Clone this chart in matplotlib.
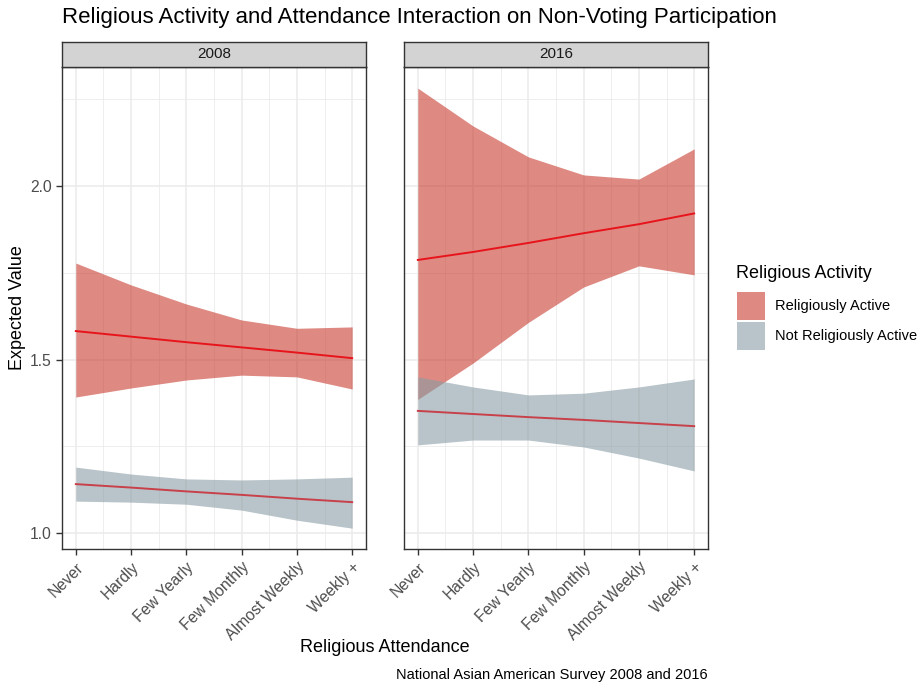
import matplotlib.pyplot as plt
import numpy as np

plt.rcParams['font.family'] = ['Liberation Sans', 'DejaVu Sans']

attendance = ['Never', 'Hardly', 'Few Yearly', 'Few Monthly', 'Almost Weekly', 'Weekly +']
years = ['2008', '2016']

# religiously active: fit, lower, upper
active_fit = {
    '2008': [1.582, 1.566, 1.550, 1.535, 1.520, 1.504],
    '2016': [1.787, 1.810, 1.836, 1.864, 1.890, 1.921],
}
active_low = {
    '2008': [1.392, 1.418, 1.441, 1.455, 1.450, 1.415],
    '2016': [1.385, 1.490, 1.607, 1.709, 1.770, 1.744],
}
active_high = {
    '2008': [1.778, 1.715, 1.660, 1.614, 1.590, 1.594],
    '2016': [2.282, 2.173, 2.084, 2.032, 2.020, 2.107],
}
# not religiously active
inactive_fit = {
    '2008': [1.141, 1.131, 1.120, 1.110, 1.099, 1.089],
    '2016': [1.352, 1.343, 1.334, 1.326, 1.317, 1.308],
}
inactive_low = {
    '2008': [1.092, 1.089, 1.083, 1.066, 1.037, 1.014],
    '2016': [1.254, 1.268, 1.268, 1.248, 1.216, 1.179],
}
inactive_high = {
    '2008': [1.190, 1.170, 1.156, 1.153, 1.156, 1.161],
    '2016': [1.450, 1.421, 1.398, 1.403, 1.421, 1.444],
}

red_fill = '#C83B2F'
grey_fill = '#8A9DA5'

fig = plt.figure(figsize=(9.19, 6.86), dpi=100)
x = np.arange(len(attendance))

lefts = [62 / 919, 404 / 919]
w = 304 / 919
bot = 1 - 549 / 686
h = (549 - 67) / 686
strip_h = 25 / 686

for k, yr in enumerate(years):
    ax = fig.add_axes([lefts[k], bot, w, h])
    ax.set_xlim(-0.25, 5.25)
    ax.set_ylim(0.954, 2.343)
    ax.set_xticks(x)
    ax.set_xticks(x[:-1] + 0.5, minor=True)
    ax.set_yticks([1.0, 1.5, 2.0])
    ax.set_yticks([1.25, 1.75, 2.25], minor=True)
    ax.grid(True, which='major', color='#EBEBEB', lw=1.1)
    ax.grid(True, which='minor', color='#EBEBEB', lw=0.6)
    ax.set_axisbelow(True)
    for s in ax.spines.values():
        s.set_color('#333333')
        s.set_linewidth(1.0)
    ax.tick_params(which='major', color='#333333', length=4, width=1, labelsize=11.3, labelcolor='#4D4D4D')
    ax.tick_params(which='minor', length=0)
    ax.set_xticklabels(attendance, rotation=45, ha='right', rotation_mode='anchor')
    if k == 0:
        ax.set_yticklabels(['1.0', '1.5', '2.0'])
    else:
        ax.set_yticklabels([])
        ax.tick_params(axis='y', length=0)

    ax.fill_between(x, active_low[yr], active_high[yr], color=red_fill, alpha=0.6, lw=0, zorder=2)
    ax.fill_between(x, inactive_low[yr], inactive_high[yr], color=grey_fill, alpha=0.6, lw=0, zorder=3)
    ax.plot(x, active_fit[yr], color='#E8141B', lw=1.4, zorder=4)
    ax.plot(x, inactive_fit[yr], color='#C8404A', lw=1.4, zorder=4)

    sax = fig.add_axes([lefts[k], bot + h, w, strip_h])
    sax.set_facecolor('#D3D3D3')
    sax.set_xticks([])
    sax.set_yticks([])
    for s in sax.spines.values():
        s.set_color('#333333')
        s.set_linewidth(1.0)
    sax.text(0.5, 0.5, yr, ha='center', va='center', fontsize=11, color='#1A1A1A', transform=sax.transAxes)

fig.text(62 / 919, 1 - 18 / 686, 'Religious Activity and Attendance Interaction on Non-Voting Participation',
         fontsize=16, ha='left', va='center')
fig.text(18 / 919, 1 - 308 / 686, 'Expected Value', rotation=90, fontsize=13, ha='center', va='center')
fig.text(385 / 919, 1 - 648 / 686, 'Religious Attendance', fontsize=13, ha='center', va='center')
fig.text(708 / 919, 1 - 675 / 686, 'National Asian American Survey 2008 and 2016', fontsize=10.5,
         ha='right', va='center')

# legend
fig.text(736 / 919, 1 - 273 / 686, 'Religious Activity', fontsize=13, ha='left', va='center')
for i, (lab, col) in enumerate([('Religiously Active', red_fill), ('Not Religiously Active', grey_fill)]):
    y0 = 292 + i * 30
    fig.patches.append(plt.Rectangle((737 / 919, 1 - (y0 + 28) / 686), 28 / 919, 28 / 686,
                                     transform=fig.transFigure, color=col, alpha=0.6, lw=0))
    fig.text(775 / 919, 1 - (y0 + 14) / 686, lab, fontsize=10.5, ha='left', va='center')

fig.savefig('out.png', dpi=100)
